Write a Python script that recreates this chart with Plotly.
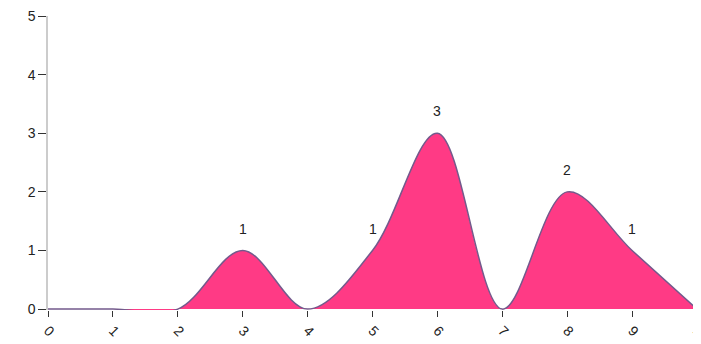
import plotly.graph_objects as go

x_vals = [0, 1, 2, 3, 4, 5, 6, 7, 8, 9, 10]
y_vals = [0, 0, 0, 1, 0, 1, 3, 0, 2, 1, 0]
x_ticks = [0, 1, 2, 3, 4, 5, 6, 7, 8, 9, 10]
y_ticks = [0, 1, 2, 3, 4, 5]

fig = go.Figure()
fig.add_trace(go.Scatter(
    x=x_vals, y=y_vals, mode="lines",
    line=dict(shape="spline", smoothing=1.0, color="#735a8c", width=1.5),
    fill="tozeroy", fillcolor="#ff3a85",
    hoverinfo="skip", showlegend=False,
))

for xv, yv in zip(x_vals, y_vals):
    if yv != 0:
        fig.add_annotation(x=xv, y=yv, text=str(yv), showarrow=False,
                           yshift=22, font=dict(size=14, color="#222",
                                                family="Liberation Sans, Arial"))

fig.update_layout(
    width=693, height=336,
    margin=dict(l=40, r=4, t=8, b=34),
    plot_bgcolor="white", paper_bgcolor="white",
    font=dict(family="Liberation Sans, Arial", size=14, color="#222"),
    xaxis=dict(range=[0, 10], tickvals=x_ticks, ticks="outside", ticklen=6,
               tickcolor="#333", showgrid=False, zeroline=False, showline=False,
               tickangle=45, tickfont=dict(size=14, color="#222"), fixedrange=True,
               automargin=False, ticklabeloverflow="allow"),
    yaxis=dict(range=[-0.015, 5], tickvals=y_ticks, ticks="outside", ticklen=8,
               tickcolor="#333", showgrid=False, zeroline=False, showline=True,
               linecolor="#cccccc", linewidth=1.5, tickfont=dict(size=14, color="#222"),
               fixedrange=True, automargin=False, ticklabeloverflow="allow"),
)

fig.write_html("out.html")
